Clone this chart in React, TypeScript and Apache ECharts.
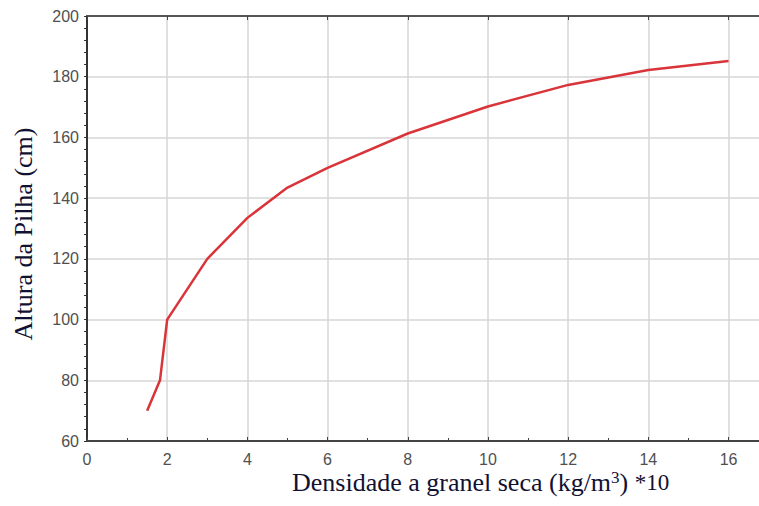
import React, { useEffect, useRef } from "react";
import * as echarts from "echarts";

const density = [1.5, 1.82, 2, 3, 4, 5, 6, 8, 10, 12, 14, 16];
const height = [70, 80, 100, 120, 133.5, 143.5, 150, 161.3, 170.2, 177.3, 182.2, 185.2];
const xTitle = "Densidade a granel seca (kg/m";
const yTitle = "Altura da Pilha (cm)";

export default function App() {
  const ref = useRef<HTMLDivElement>(null);
  useEffect(() => {
    const chart = echarts.init(ref.current!, null, { renderer: "svg" });
    const labelStyle = { color: "#505050", fontFamily: "Liberation Sans", fontSize: 16 };
    chart.setOption({
      animation: false,
      backgroundColor: "#ffffff",
      grid: { left: 87, right: 0, top: 16, bottom: 65, containLabel: false },
      xAxis: [
        {
          type: "value", min: 0, max: 16.76, interval: 2,
          axisLine: { lineStyle: { color: "#444", width: 2 } },
          axisTick: { inside: true, length: 4, lineStyle: { color: "#444" } },
          minorTick: { show: true, splitNumber: 2, length: 3, lineStyle: { color: "#444" } },
          axisLabel: { ...labelStyle, margin: 10, showMaxLabel: false, formatter: (v: number) => (v % 2 === 0 ? String(v) : "") },
          splitLine: { show: true, showMaxLine: false, lineStyle: { color: "#d6d6d6", width: 1.5 } },
        },
        {
          type: "value", min: 0, max: 16.76, interval: 2, position: "top",
          axisLine: { lineStyle: { color: "#555", width: 2 } },
          axisTick: { inside: true, length: 4, lineStyle: { color: "#444" } },
          axisLabel: { show: false },
          splitLine: { show: false },
        },
      ],
      yAxis: {
        type: "value", min: 60, max: 200, interval: 20,
        axisLine: { show: true, lineStyle: { color: "#333", width: 2 } },
        axisTick: { show: true, inside: false, length: 3, lineStyle: { color: "#333" } },
        minorTick: { show: true, splitNumber: 5, length: 3, lineStyle: { color: "#333" } },
        axisLabel: { ...labelStyle, margin: 8 },
        splitLine: { show: true, lineStyle: { color: "#d6d6d6", width: 1.5 } },
      },
      series: [
        {
          type: "line",
          data: density.map((d, i) => [d, height[i]]),
          showSymbol: false,
          lineStyle: { color: "#d9343a", width: 2.5 },
          xAxisIndex: 0,
        },
      ],
      graphic: [
        {
          type: "text",
          left: 292,
          top: 469,
          style: {
            text: "{a|" + xTitle + "}{s|3}{a|) }{b|*10}",
            rich: {
              a: { fontFamily: "Liberation Serif", fontSize: 26, fill: "#111133" },
              s: { fontFamily: "Liberation Serif", fontSize: 17, fill: "#111133", verticalAlign: "top", padding: [0, 0, 10, 0] },
              b: { fontFamily: "Liberation Serif", fontSize: 23, fill: "#111133" },
            },
          },
        },
        {
          type: "text",
          x: 23,
          y: 234,
          rotation: Math.PI / 2,
          style: {
            text: yTitle,
            fontFamily: "Liberation Serif",
            fontSize: 26,
            fill: "#111133",
            align: "center",
            verticalAlign: "middle",
          },
        },
      ],
    });
    return () => chart.dispose();
  }, []);
  return <div ref={ref} style={{ width: 759, height: 506, position: "absolute", left: 0, top: 0 }} />;
}
